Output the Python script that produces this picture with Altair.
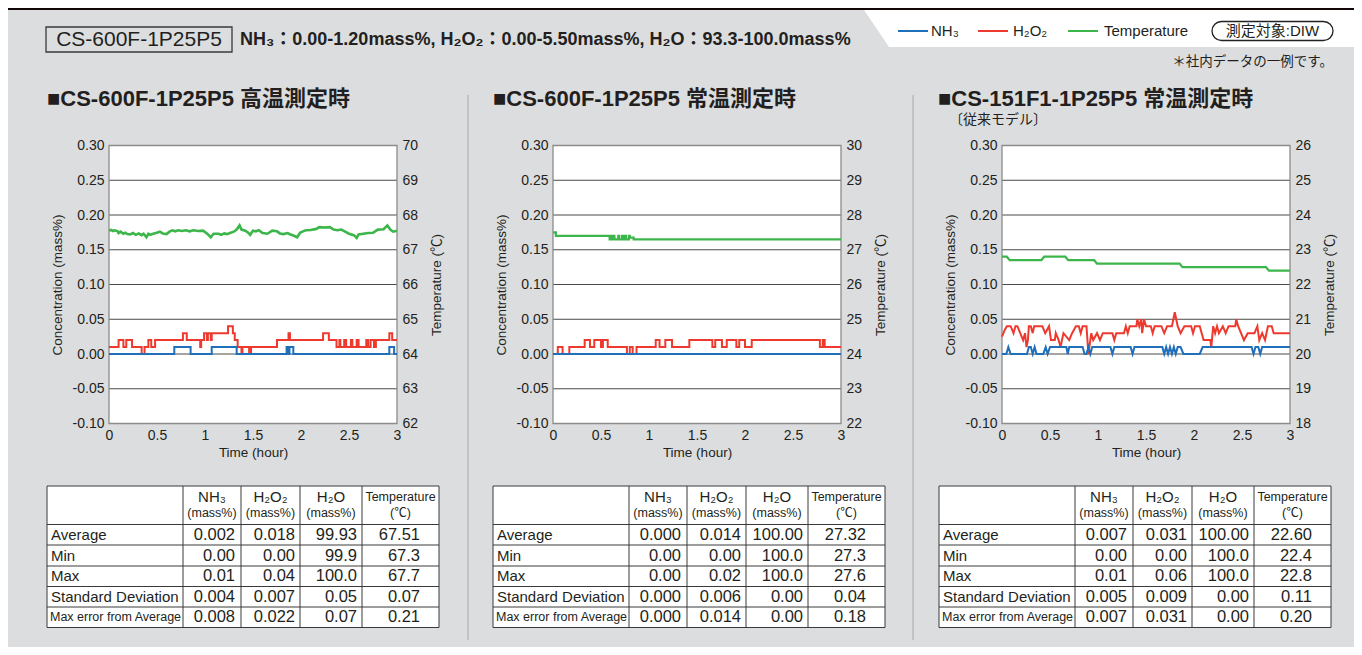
import altair as alt
import pandas as pd

# ---------------- data ----------------
time_ticks = [0, 0.5, 1, 1.5, 2, 2.5, 3]
conc_ticks = [-0.10, -0.05, 0.00, 0.05, 0.10, 0.15, 0.20, 0.25, 0.30]
temp_ticks = [
    [62, 63, 64, 65, 66, 67, 68, 69, 70],
    [22, 23, 24, 25, 26, 27, 28, 29, 30],
    [18, 19, 20, 21, 22, 23, 24, 25, 26],
]

panel_titles = ["■CS-600F-1P25P5 高温測定時", "■CS-600F-1P25P5 常温測定時", "■CS-151F1-1P25P5 常温測定時"]
panel3_subtitle = "〔従来モデル〕"
header_model = "CS-600F-1P25P5"
header_spec = "NH₃：0.00-1.20mass%, H₂O₂：0.00-5.50mass%, H₂O：93.3-100.0mass%"
legend_labels = ["NH₃", "H₂O₂", "Temperature"]
legend_target = "測定対象:DIW"
note_text = "＊社内データの一例です。"
x_title = "Time (hour)"
y_title = "Concentration (mass%)"
y2_title = "Temperature (℃)"

# Panel 1 (high temperature)
p1_nh3_t = [0, 0.68, 0.85, 1.07, 1.33, 1.85, 1.87, 1.88, 1.92, 2.92, 2.97, 3.0]
p1_nh3_v = [0, 0.01, 0, 0.01, 0, 0.01, 0, 0.01, 0, 0.01, 0, 0]
p1_h2o2_t = [0, 0.10, 0.15, 0.18, 0.24, 0.34, 0.37, 0.41, 0.44, 0.48, 0.77, 0.81, 0.95, 0.96, 0.99, 1.02,
             1.03, 1.06, 1.07, 1.24, 1.29, 1.31, 1.34, 1.38, 1.39, 1.46, 1.48, 1.75, 1.87, 1.885, 2.23,
             2.29, 2.37, 2.40, 2.41, 2.45, 2.47, 2.52, 2.535, 2.58, 2.60, 2.68, 2.70, 2.725, 2.76, 2.78,
             2.92, 2.95, 3.0]
p1_h2o2_v = [0.01, 0.02, 0.01, 0.02, 0.01, 0.0, 0.01, 0.02, 0.01, 0.02, 0.03, 0.02, 0.01, 0.02, 0.03, 0.02,
             0.03, 0.02, 0.03, 0.04, 0.03, 0.02, 0.01, 0.0, 0.01, 0.0, 0.01, 0.02, 0.03, 0.02, 0.03,
             0.02, 0.01, 0.02, 0.01, 0.02, 0.01, 0.02, 0.01, 0.02, 0.01, 0.02, 0.01, 0.02, 0.01, 0.02,
             0.03, 0.02, 0.02]
p1_temp_t = [0, 0.02, 0.04, 0.06, 0.09, 0.10, 0.12, 0.15, 0.17, 0.19, 0.22, 0.25, 0.28, 0.31, 0.34, 0.36,
             0.39, 0.41, 0.43, 0.45, 0.49, 0.53, 0.56, 0.60, 0.63, 0.66, 0.69, 0.72, 0.76, 0.80, 0.84,
             0.88, 0.93, 0.98, 1.02, 1.06, 1.09, 1.14, 1.17, 1.20, 1.23, 1.26, 1.30, 1.33, 1.36, 1.38,
             1.42, 1.45, 1.47, 1.50, 1.53, 1.56, 1.60, 1.65, 1.70, 1.75, 1.78, 1.82, 1.86, 1.89, 1.92,
             1.96, 1.99, 2.02, 2.05, 2.10, 2.16, 2.19, 2.25, 2.30, 2.34, 2.38, 2.42, 2.46, 2.50, 2.55,
             2.58, 2.60, 2.65, 2.70, 2.75, 2.80, 2.86, 2.90, 2.93, 2.96, 3.0]
p1_temp_v = [67.55, 67.57, 67.54, 67.56, 67.53, 67.48, 67.52, 67.46, 67.49, 67.45, 67.44, 67.48, 67.43,
             67.47, 67.42, 67.46, 67.36, 67.46, 67.43, 67.45, 67.48, 67.52, 67.47, 67.45, 67.52, 67.56,
             67.53, 67.56, 67.54, 67.56, 67.53, 67.56, 67.54, 67.55, 67.47, 67.36, 67.46, 67.46, 67.43,
             67.47, 67.45, 67.48, 67.52, 67.58, 67.70, 67.58, 67.55, 67.49, 67.43, 67.55, 67.53, 67.56,
             67.48, 67.46, 67.55, 67.53, 67.47, 67.45, 67.48, 67.44, 67.41, 67.36, 67.49, 67.53, 67.56,
             67.57, 67.60, 67.65, 67.64, 67.65, 67.58, 67.56, 67.58, 67.52, 67.46, 67.42, 67.34, 67.44,
             67.46, 67.48, 67.49, 67.58, 67.59, 67.70, 67.58, 67.52, 67.55]

# Panel 2 (room temperature)
p2_nh3_t = [0, 3.0]
p2_nh3_v = [0, 0]
p2_h2o2_t = [0, 0.05, 0.10, 0.17, 0.33, 0.385, 0.43, 0.50, 0.52, 0.57, 0.77, 0.80, 0.83, 0.87, 1.07, 1.11,
             1.17, 1.24, 1.42, 1.66, 1.69, 1.76, 1.81, 1.91, 1.94, 2.00, 2.07, 2.78, 2.81, 2.83, 3.0]
p2_h2o2_v = [0.0, 0.01, 0.0, 0.01, 0.02, 0.01, 0.02, 0.01, 0.02, 0.01, 0.0, 0.01, 0.0, 0.01, 0.02, 0.01,
             0.02, 0.01, 0.02, 0.01, 0.02, 0.01, 0.02, 0.01, 0.02, 0.01, 0.02, 0.01, 0.02, 0.01, 0.01]
p2_temp_t = [0, 0.03, 0.59, 0.60, 0.61, 0.63, 0.64, 0.68, 0.69, 0.72, 0.73, 0.75, 0.76, 0.79, 0.80, 0.84, 3.0]
p2_temp_v = [27.5, 27.4, 27.3, 27.4, 27.3, 27.4, 27.3, 27.4, 27.3, 27.4, 27.3, 27.4, 27.3, 27.4, 27.35, 27.3, 27.3]

# Panel 3 (previous model, room temperature)
p3_nh3_t = [0, 0.045, 0.066, 0.09, 0.26, 0.28, 0.30, 0.32, 0.34, 0.36, 0.43, 0.455, 0.475, 0.50, 0.67,
            0.685, 0.70, 0.84, 0.86, 0.88, 0.90, 0.92, 0.94, 1.13, 1.15, 1.17, 1.34, 1.36, 1.38, 1.67,
            1.69, 1.71, 1.73, 1.75, 1.77, 1.79, 1.81, 1.83, 1.86, 1.89, 2.06, 2.09, 2.60, 2.62, 2.64,
            2.67, 2.69, 2.71, 3.0]
p3_nh3_v = [0, 0, 0.01, 0, 0, 0.01, 0.01, 0, 0.01, 0, 0, 0.01, 0, 0.01, 0.01,
            0, 0.01, 0.01, 0, 0, 0.01, 0, 0.01, 0.01, 0, 0.01, 0.01, 0, 0.01, 0.01,
            0, 0.01, 0, 0.01, 0, 0.01, 0, 0.01, 0.01, 0, 0, 0.01, 0.01, 0, 0.01,
            0.01, 0, 0.01, 0.01]
p3_h2o2_t = [0, 0.03, 0.05, 0.09, 0.12, 0.14, 0.16, 0.19, 0.22, 0.24, 0.255, 0.27, 0.28, 0.30, 0.32, 0.335,
             0.42, 0.45, 0.49, 0.51, 0.55, 0.56, 0.59, 0.61, 0.64, 0.70, 0.73, 0.77, 0.80, 0.82, 0.84,
             0.88, 0.90, 0.93, 0.95, 0.99, 1.02, 1.05, 1.15, 1.17, 1.19, 1.27, 1.29, 1.31, 1.33, 1.40,
             1.41, 1.43, 1.45, 1.46, 1.48, 1.50, 1.55, 1.57, 1.59, 1.66, 1.69, 1.72, 1.77, 1.80, 1.83,
             1.86, 1.90, 1.97, 1.99, 2.01, 2.06, 2.08, 2.10, 2.17, 2.18, 2.20, 2.22, 2.24, 2.26, 2.30,
             2.33, 2.36, 2.43, 2.44, 2.46, 2.49, 2.52, 2.56, 2.63, 2.66, 2.68, 2.71, 2.74, 2.77, 2.81,
             2.83, 3.0]
p3_h2o2_v = [0.025, 0.035, 0.04, 0.04, 0.03, 0.04, 0.04, 0.03, 0.02, 0.03, 0.01, 0.02, 0.04, 0.04, 0.03, 0.04,
             0.04, 0.03, 0.04, 0.02, 0.02, 0.03, 0.02, 0.01, 0.03, 0.02, 0.03, 0.04, 0.04, 0.03, 0.04,
             0.04, 0.0, 0.03, 0.02, 0.03, 0.02, 0.03, 0.03, 0.02, 0.03, 0.03, 0.04, 0.03, 0.04, 0.04,
             0.05, 0.04, 0.05, 0.03, 0.05, 0.04, 0.04, 0.03, 0.04, 0.04, 0.03, 0.04, 0.04, 0.06, 0.04,
             0.03, 0.04, 0.04, 0.03, 0.04, 0.04, 0.03, 0.02, 0.02, 0.01, 0.04, 0.03, 0.04, 0.03, 0.04,
             0.03, 0.04, 0.04, 0.05, 0.04, 0.03, 0.02, 0.03, 0.03, 0.04, 0.02, 0.03, 0.02, 0.04, 0.04,
             0.03, 0.03]
p3_temp_t = [0, 0.05, 0.08, 0.41, 0.44, 0.66, 0.69, 0.96, 0.99, 1.85, 1.88, 2.75, 2.78, 3.0]
p3_temp_v = [22.8, 22.8, 22.7, 22.7, 22.8, 22.8, 22.7, 22.7, 22.6, 22.6, 22.5, 22.5, 22.4, 22.4]

temp_domains = [[62, 70], [22, 30], [18, 26]]

# statistics tables
row_labels = ["Average", "Min", "Max", "Standard Deviation", "Max error from Average"]
col_names = ["NH₃", "H₂O₂", "H₂O", "Temperature"]
col_units = ["(mass%)", "(mass%)", "(mass%)", "(℃)"]
p1_table = [["0.002", "0.018", "99.93", "67.51"],
            ["0.00", "0.00", "99.9", "67.3"],
            ["0.01", "0.04", "100.0", "67.7"],
            ["0.004", "0.007", "0.05", "0.07"],
            ["0.008", "0.022", "0.07", "0.21"]]
p2_table = [["0.000", "0.014", "100.00", "27.32"],
            ["0.00", "0.00", "100.0", "27.3"],
            ["0.00", "0.02", "100.0", "27.6"],
            ["0.000", "0.006", "0.00", "0.04"],
            ["0.000", "0.014", "0.00", "0.18"]]
p3_table = [["0.007", "0.031", "100.00", "22.60"],
            ["0.00", "0.00", "100.0", "22.4"],
            ["0.01", "0.06", "100.0", "22.8"],
            ["0.005", "0.009", "0.00", "0.11"],
            ["0.007", "0.031", "0.00", "0.20"]]

# ---------------- layout & style ----------------
W, H = 1346, 639
PLOT_X = [101, 545, 994]
PW = 288
PTOP, PBOT = 137.5, 415.5
TABLE_X = [39, 485, 931]
TABLE_Y = 478
COL_B = [0, 136, 194, 253, 315, 392]
ROW_B = [0, 38.5, 59, 80, 100.5, 121, 141.5]
NUM_RIGHT = [188, 248, 310, 373]
TITLE_X = [39, 485, 930]

FONT = "Liberation Sans, Arial, Helvetica, Noto Sans CJK JP, sans-serif"
TEXT = "#231f20"
BG = "#dcdddf"
BLUE = "#1f6fba"
RED = "#ee3a2e"
GREEN = "#3cb54a"
GRID = "#4a4a4a"


def px(field):
    return alt.X(field, scale=None, axis=None)


def py(field):
    return alt.Y(field, scale=None, axis=None)


def text_layer(rows, **kw):
    df = pd.DataFrame(rows, columns=["x", "y", "text"])
    base = dict(font=FONT, color=TEXT, baseline="middle")
    base.update(kw)
    return alt.Chart(df).mark_text(**base).encode(x=px("x:Q"), y=py("y:Q"), text="text:N")


layers = []

# background rectangles
rect_rows = [dict(x=0, x2=W, y=0, y2=2, c="#140708"),
             dict(x=881, x2=W, y=2, y2=39, c="#ffffff")]
for i in range(3):
    rect_rows.append(dict(x=PLOT_X[i], x2=PLOT_X[i] + PW, y=PTOP, y2=PBOT, c="#ffffff"))
    rect_rows.append(dict(x=TABLE_X[i], x2=TABLE_X[i] + COL_B[-1], y=TABLE_Y, y2=TABLE_Y + ROW_B[-1], c="#ffffff"))
layers.append(alt.Chart(pd.DataFrame(rect_rows)).mark_rect().encode(
    x=px("x:Q"), x2="x2:Q", y=py("y:Q"), y2="y2:Q", color=alt.Color("c:N", scale=None)))

# slanted left edge of legend band
layers.append(alt.Chart(pd.DataFrame({"x": [856, 881], "y": [2, 2], "y2": [2, 39]})).mark_area(
    color="#ffffff", orient="vertical").encode(x=px("x:Q"), y=py("y:Q"), y2="y2:Q"))

# header box and legend box
layers.append(alt.Chart(pd.DataFrame([dict(x=38, x2=224, y=19, y2=44)])).mark_rect(
    fillOpacity=0, stroke="#3a3a3a", strokeWidth=1.3).encode(x=px("x:Q"), x2="x2:Q", y=py("y:Q"), y2="y2:Q"))
layers.append(alt.Chart(pd.DataFrame([dict(x=1204, x2=1325, y=13.5, y2=32.5)])).mark_rect(
    fill="#ffffff", stroke="#222222", strokeWidth=1.3, cornerRadius=9.5).encode(
    x=px("x:Q"), x2="x2:Q", y=py("y:Q"), y2="y2:Q"))

# rules: separators, legend swatches, table lines
rule_rows = [dict(x=460, x2=460, y=87, y2=632, c="#a8a8a8", w=1),
             dict(x=905, x2=905, y=87, y2=632, c="#a8a8a8", w=1),
             dict(x=890, x2=920, y=23, y2=23, c=BLUE, w=2),
             dict(x=970, x2=1000, y=23, y2=23, c=RED, w=2),
             dict(x=1060, x2=1090, y=23, y2=23, c=GREEN, w=2)]
for i in range(3):
    tx = TABLE_X[i]
    for rb in ROW_B:
        rule_rows.append(dict(x=tx, x2=tx + COL_B[-1], y=TABLE_Y + rb, y2=TABLE_Y + rb, c="#3a3a3a", w=1))
    for cb in COL_B:
        rule_rows.append(dict(x=tx + cb, x2=tx + cb, y=TABLE_Y, y2=TABLE_Y + ROW_B[-1], c="#3a3a3a", w=1))
layers.append(alt.Chart(pd.DataFrame(rule_rows)).mark_rule().encode(
    x=px("x:Q"), x2="x2:Q", y=py("y:Q"), y2="y2:Q",
    color=alt.Color("c:N", scale=None), strokeWidth=alt.StrokeWidth("w:Q", scale=None)))

# ---------------- plots ----------------
series = [
    (p1_nh3_t, p1_nh3_v, p1_h2o2_t, p1_h2o2_v, p1_temp_t, p1_temp_v, "step-after", "step-after", "linear", 2.6),
    (p2_nh3_t, p2_nh3_v, p2_h2o2_t, p2_h2o2_v, p2_temp_t, p2_temp_v, "step-after", "step-after", "step-after", 2.2),
    (p3_nh3_t, p3_nh3_v, p3_h2o2_t, p3_h2o2_v, p3_temp_t, p3_temp_v, "linear", "linear", "linear", 2.2),
]

axis_common = dict(labelFont=FONT, labelFontSize=14, labelColor=TEXT, titleFont=FONT, titleFontSize=13.5,
                   titleColor=TEXT, titleFontWeight="normal", domain=False, ticks=False, tickSize=0,
                   grid=False, labelFlush=False, labelOverlap=False)

for i in range(3):
    x0 = PLOT_X[i]
    nh3_t, nh3_v, h_t, h_v, te_t, te_v, i_n, i_h, i_t, tw = series[i]
    xs = alt.Scale(domain=[0, 3], range=[x0, x0 + PW], nice=False, zero=False)
    ysc = alt.Scale(domain=[-0.1, 0.3], range=[PBOT, PTOP], nice=False, zero=False)
    yst = alt.Scale(domain=temp_domains[i], range=[PBOT, PTOP], nice=False, zero=False)

    x_axis = alt.Axis(orient="bottom", offset=-(H - PBOT), values=time_ticks, title=x_title,
                      labelExpr="'' + datum.value", labelPadding=5, titlePadding=3, **axis_common)
    y_axis = alt.Axis(orient="left", offset=-x0, values=conc_ticks, title=y_title,
                      labelExpr="(datum.value < -0.0001 ? '-' : '') + format(abs(datum.value), '.2f')",
                      labelPadding=5, titlePadding=8, **axis_common)
    y2_axis = alt.Axis(orient="right", offset=-(W - (x0 + PW)), values=temp_ticks[i], title=y2_title,
                       titleAngle=270, titleBaseline="top", labelPadding=5, titlePadding=12, **axis_common)

    gdf = pd.DataFrame({"v": conc_ticks, "x0": 0, "x1": 3})
    layers.append(alt.Chart(gdf).mark_rule(color=GRID, strokeWidth=1).encode(
        x=alt.X("x0:Q", scale=xs, axis=x_axis), x2="x1:Q", y=alt.Y("v:Q", scale=ysc, axis=y_axis)))

    # frame sides
    layers.append(alt.Chart(pd.DataFrame([dict(x=x0, x2=x0 + PW, y=PTOP, y2=PBOT)])).mark_rect(
        fillOpacity=0, stroke="#8c8c8c", strokeWidth=1.3).encode(x=px("x:Q"), x2="x2:Q", y=py("y:Q"), y2="y2:Q"))

    layers.append(alt.Chart(pd.DataFrame({"t": te_t, "v": te_v})).mark_line(
        color=GREEN, strokeWidth=tw, interpolate=i_t).encode(
        x=alt.X("t:Q", scale=xs, axis=None), y=alt.Y("v:Q", scale=yst, axis=y2_axis)))
    layers.append(alt.Chart(pd.DataFrame({"t": h_t, "v": h_v})).mark_line(
        color=RED, strokeWidth=2, interpolate=i_h).encode(
        x=alt.X("t:Q", scale=xs, axis=None), y=alt.Y("v:Q", scale=ysc, axis=None)))
    layers.append(alt.Chart(pd.DataFrame({"t": nh3_t, "v": nh3_v})).mark_line(
        color=BLUE, strokeWidth=2, interpolate=i_n).encode(
        x=alt.X("t:Q", scale=xs, axis=None), y=alt.Y("v:Q", scale=ysc, axis=None)))

# ---------------- texts ----------------
layers.append(text_layer([(131, 31.5, header_model)], fontSize=21, align="center"))
layers.append(text_layer([(232, 32, header_spec)], fontSize=18, fontWeight="bold", align="left"))
layers.append(text_layer([(923, 23, legend_labels[0]), (1005, 23, legend_labels[1]),
                          (1096, 23, legend_labels[2])], fontSize=15, align="left"))
layers.append(text_layer([(1264.5, 23, legend_target)], fontSize=15, align="center"))
layers.append(text_layer([(1325, 54, note_text)], fontSize=13.5, align="right"))
layers.append(text_layer([(TITLE_X[i], 91, panel_titles[i]) for i in range(3)],
                         fontSize=22, fontWeight="bold", align="left"))
layers.append(text_layer([(941, 112, panel3_subtitle)], fontSize=14, align="left"))

tables = [p1_table, p2_table, p3_table]
name_rows, temp_rows, unit_rows, lab_rows, lab_small, num_rows = [], [], [], [], [], []
for i in range(3):
    tx = TABLE_X[i]
    for c in range(4):
        cx = tx + (COL_B[c + 1] + COL_B[c + 2]) / 2
        if c < 3:
            name_rows.append((cx, TABLE_Y + 11, col_names[c]))
        else:
            temp_rows.append((cx, TABLE_Y + 11, col_names[c]))
        unit_rows.append((cx, TABLE_Y + 26.5, col_units[c]))
    for r in range(5):
        cy = TABLE_Y + (ROW_B[r + 1] + ROW_B[r + 2]) / 2
        if r < 4:
            lab_rows.append((tx + 4, cy, row_labels[r]))
        else:
            lab_small.append((tx + 3, cy, row_labels[r]))
        for c in range(4):
            num_rows.append((tx + NUM_RIGHT[c], cy, tables[i][r][c]))

layers.append(text_layer(name_rows, fontSize=15, align="center"))
layers.append(text_layer(temp_rows, fontSize=12.5, align="center"))
layers.append(text_layer(unit_rows, fontSize=12.5, align="center"))
layers.append(text_layer(lab_rows, fontSize=15, align="left"))
layers.append(text_layer(lab_small, fontSize=12.5, align="left"))
layers.append(text_layer(num_rows, fontSize=16.5, align="right"))

chart = alt.layer(*layers).resolve_scale(x="independent", y="independent").properties(
    width=W, height=H, autosize=alt.AutoSizeParams(type="none"), padding=0
).configure(background=BG).configure_view(stroke=None)

chart.save("out.html", embed_options={"renderer": "svg", "actions": False})
